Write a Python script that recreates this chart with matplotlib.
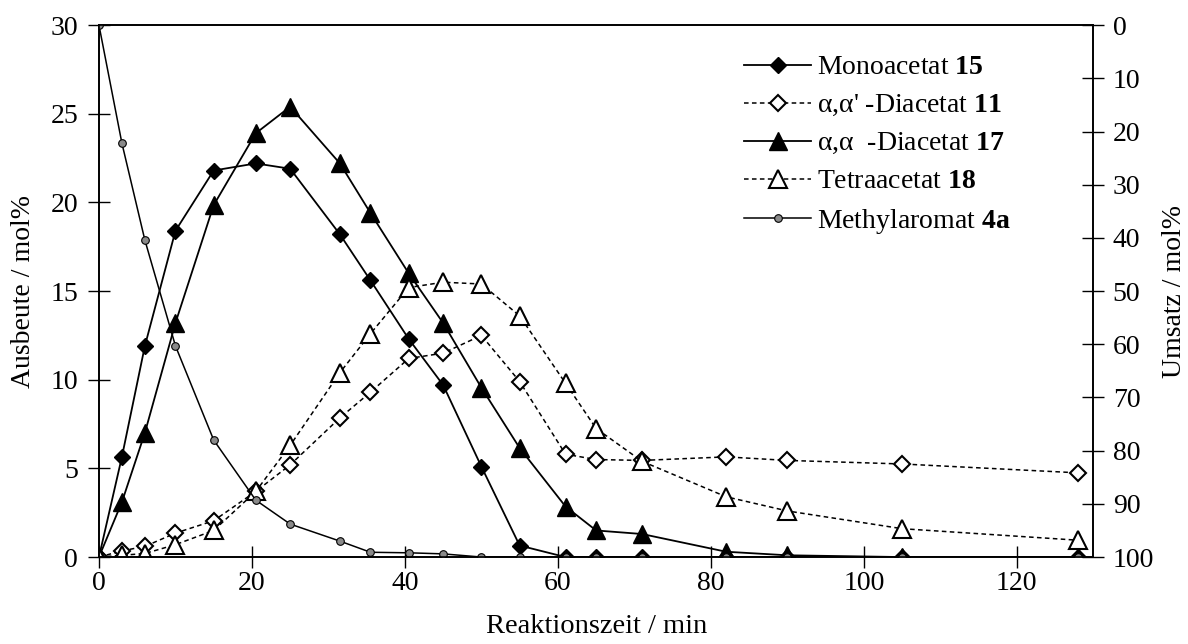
import matplotlib
matplotlib.use("Agg")
import matplotlib.pyplot as plt

plt.rcParams['font.family'] = ['Liberation Serif', 'DejaVu Serif']
plt.rcParams['mathtext.fontset'] = 'custom'
plt.rcParams['mathtext.rm'] = 'Liberation Serif'
plt.rcParams['mathtext.bf'] = 'Liberation Serif:bold'
plt.rcParams['font.size'] = 20

# Reaktionszeit / min
zeit = [0, 3, 6, 10, 15, 20.5, 25, 31.5, 35.5, 40.5, 45, 50, 55, 61, 65, 71, 82, 90, 105, 128]

# Ausbeute / mol%
mono_15 = [0, 5.65, 11.9, 18.4, 21.8, 22.2, 21.9, 18.2, 15.6, 12.3, 9.7, 5.1, 0.65,
           0, 0, 0, 0, 0, 0, 0]
di_11 = [0, 0.35, 0.6, 1.35, 2.05, 3.7, 5.2, 7.85, 9.3, 11.2, 11.5, 12.5, 9.9,
         5.8, 5.5, 5.45, 5.65, 5.45, 5.25, 4.75]
di_17 = [0, 3.1, 7.0, 13.2, 19.85, 23.9, 25.4, 22.2, 19.4, 16.0, 13.2, 9.55, 6.15,
         2.85, 1.5, 1.3, 0.3, 0.1, 0, 0]
tetra_18 = [0, 0.1, 0.2, 0.7, 1.5, 3.7, 6.3, 10.4, 12.6, 15.2, 15.5, 15.4, 13.6,
            9.8, 7.25, 5.4, 3.4, 2.6, 1.6, 0.95]

# Umsatz / mol% (rechte Achse)
methyl_4a = [0, 22.2, 40.4, 60.3, 78.0, 89.3, 93.8, 97.0, 99.1, 99.2, 99.4, 100, 100,
             100, 100, 100, 100, 100, 100, 100]

fig = plt.figure(figsize=(11.88, 6.44), dpi=100)
ax = fig.add_axes([0.0833, 0.135, 0.837, 0.826])

lw = 1.3
dash = (0, (3, 2.2))
h1, = ax.plot(zeit, mono_15, color='black', lw=lw, marker='D', ms=7.8,
              mfc='black', mec='black', label=r'Monoacetat $\mathbf{15}$')
h2, = ax.plot(zeit, di_11, color='black', lw=1.1, ls=dash, marker='D', ms=8,
              mfc='white', mec='black', mew=1.5, label=r"α,α' -Diacetat $\mathbf{11}$")
h3, = ax.plot(zeit, di_17, color='black', lw=lw, marker='^', ms=12.5,
              mfc='black', mec='black', label=r'α,α  -Diacetat $\mathbf{17}$')
h4, = ax.plot(zeit, tetra_18, color='black', lw=1.1, ls=dash, marker='^', ms=12.5,
              mfc='white', mec='black', mew=1.5, label=r'Tetraacetat $\mathbf{18}$')

ax.set_xlim(0, 130)
ax.set_ylim(0, 30)
ax.set_xticks([0, 20, 40, 60, 80, 100, 120])
ax.set_yticks([0, 5, 10, 15, 20, 25, 30])
ax.tick_params(direction='inout', length=16, width=1, pad=7)
ax.tick_params(axis='x', pad=2)
ax.set_xlabel('Reaktionszeit / min', fontsize=20.5, labelpad=13)
ax.set_ylabel('Ausbeute / mol%', labelpad=10)

ax2 = ax.twinx()
h5, = ax2.plot(zeit, methyl_4a, color='black', lw=1.1, marker='o', ms=5.5,
               mfc='#8a8a8a', mec='black', mew=0.8, label=r'Methylaromat $\mathbf{4a}$')
ax2.set_ylim(100, 0)
ax2.set_yticks(range(0, 101, 10))
ax2.tick_params(direction='inout', length=16, width=1, pad=6)
ax2.set_ylabel('Umsatz / mol%', rotation=90, labelpad=6)

for a in (ax, ax2):
    for s in a.spines.values():
        s.set_linewidth(1.2)

leg = ax2.legend(handles=[h1, h2, h3, h4, h5], loc='upper left',
                 bbox_to_anchor=(0.638, 0.965), frameon=False,
                 handlelength=2.4, handletextpad=0.2, labelspacing=0.45,
                 borderaxespad=0)

fig.savefig('out.png', dpi=100)
